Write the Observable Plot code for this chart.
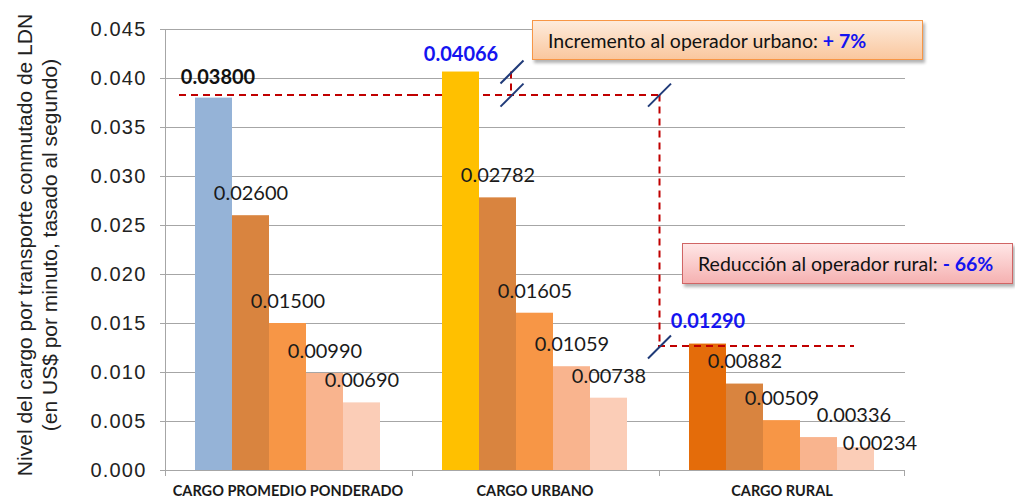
<!DOCTYPE html>
<html>
<head>
<meta charset="utf-8">
<script src="https://cdn.jsdelivr.net/npm/d3@7"></script>
<script src="https://cdn.jsdelivr.net/npm/@observablehq/plot@0.6"></script>
<style>
  html, body { margin: 0; padding: 0; background: #fff; }
  #wrap { position: relative; width: 1015px; height: 499px; overflow: hidden; }
  #wrap svg { position: absolute; left: 0; top: 0; }
  g[aria-label="y-axis tick label"] text { letter-spacing: 1.2px; }
  g[aria-label="value label"] text { letter-spacing: 1px; }
  .note { position: absolute; box-sizing: border-box; display: flex; align-items: center;
          font-family: Lato, "Open Sans", sans-serif; font-size: 19.5px; color: #111;
          white-space: nowrap; padding-left: 15px; }
  .note b { color: #1414F0; font-weight: bold; margin-left: 5px; }
  .note.urb { left: 532px; top: 20px; width: 391px; height: 40px;
              background: linear-gradient(#FDEBDC, #FAC79E); border: 1.5px solid #F79646;
              box-shadow: 2px 3px 3px rgba(0,0,0,0.3); }
  .note.rur { left: 682px; top: 243px; width: 331px; height: 41px;
              background: linear-gradient(#FFE6E6, #F5B1B1); border: 1.5px solid #D06464;
              box-shadow: 2px 3px 3px rgba(0,0,0,0.3); }
</style>
</head>
<body>
<div id="wrap"></div>
<script>
// ---- data ----
const groups = ["CARGO PROMEDIO PONDERADO", "CARGO URBANO", "CARGO RURAL"];
const series = ["s1", "s2", "s3", "s4", "s5"];
const cargoPromedio = [0.03800, 0.02600, 0.01500, 0.00990, 0.00690];
const cargoUrbano   = [0.04066, 0.02782, 0.01605, 0.01059, 0.00738];
const cargoRural    = [0.01290, 0.00882, 0.00509, 0.00336, 0.00234];
const yTicks = [0, 0.005, 0.010, 0.015, 0.020, 0.025, 0.030, 0.035, 0.040, 0.045];
const yTitle = ["Nivel del cargo por transporte conmutado de LDN", "(en US$ por minuto, tasado al segundo)"];
const noteUrbano = ["Incremento al operador urbano:", "+ 7%"];
const noteRural  = ["Reducción al operador rural:", "- 66%"];

// ---- styles ----
const leadColors = ["#95B3D7", "#FFC000", "#E46C0A"];
const tailColors = ["#D9843F", "#F79646", "#F9B48E", "#FBCDB7"];
const leadLabelColors = ["#111111", "#1414F0", "#1414F0"];
const red = "#C00000", navy = "#1F3A78", gridGray = "#A6A6A6";
const dash = {stroke: red, strokeWidth: 2, strokeDasharray: "7,5"};
const EDGE = 48.5; // offset from first band centre to facet edge
const slash = {draw(ctx, size) { const r = Math.sqrt(size / Math.PI); ctx.moveTo(-r, r); ctx.lineTo(r, -r); }};
const fmt = d3.format(".5f");

const allValues = [cargoPromedio, cargoUrbano, cargoRural];
const rows = groups.flatMap((g, gi) => allValues[gi].map((v, si) => ({group: g, gi, series: series[si], si, value: v})));
const baseline = cargoPromedio[0];

const labelOpts = {fx: "group", x: "series", y: "value", text: d => fmt(d.value),
  fontFamily: "Lato, 'Open Sans', sans-serif", fontSize: 20, ariaLabel: "value label"};

const plot = Plot.plot({
  width: 1015, height: 499,
  marginLeft: 163, marginRight: 109, marginTop: 29, marginBottom: 29,
  style: {fontFamily: "'Liberation Sans', Arial, sans-serif", fontSize: "20px", color: "#222", background: "transparent"},
  fx: {domain: groups, padding: 0, label: null},
  x: {domain: series, paddingInner: 0, paddingOuter: 0.79, axis: null},
  y: {domain: [0, 0.045], label: null},
  marks: [
    Plot.gridY(yTicks, {stroke: gridGray, strokeOpacity: 1}),
    Plot.axisY(yTicks, {tickFormat: d3.format(".3f"), tickSize: 4, tickPadding: 14, stroke: gridGray, fill: "#222", fontSize: 20, label: null}),
    Plot.axisFx({anchor: "bottom", tickSize: 0, tickPadding: 15, fontSize: 14.5, fontWeight: "bold",
      fontFamily: "Lato, 'Open Sans', sans-serif", fill: "#1a1a1a", label: null}),
    Plot.text([yTitle.join("\n")], {fx: () => groups[0], frameAnchor: "left", textAnchor: "middle", lineAnchor: "middle",
      rotate: -90, dx: -128, dy: -5, fontSize: 21, lineHeight: 1.19, text: d => d, fill: "#222"}),
    // reference dashed lines (behind bars)
    Plot.ruleY([groups[0]], {fx: d => d, y: () => baseline, insetLeft: 15, dy: -3, ...dash}),
    Plot.ruleY([groups[1]], {fx: d => d, y: () => baseline, dy: -3, ...dash}),
    Plot.ruleX([groups[2]], {fx: d => d, x: () => series[0], dx: -EDGE, y1: () => baseline, y2: () => cargoRural[0], insetTop: -3, insetBottom: -2, ...dash}),
    Plot.ruleX([groups[1]], {fx: d => d, x: () => series[1], dx: 13, y1: () => cargoUrbano[0], y2: () => baseline, insetBottom: 3, ...dash}),
    // bars
    Plot.barY(rows, {fx: "group", x: "series", y: "value", fill: d => d.si === 0 ? leadColors[d.gi] : tailColors[d.si - 1]}),
    Plot.ruleY([groups[2]], {fx: d => d, y: () => cargoRural[0], dy: 2, insetRight: 51, ...dash}),
    // axis lines
    Plot.ruleY([0], {stroke: gridGray}),
    Plot.ruleX([groups[0]], {fx: d => d, x: () => series[0], dx: -EDGE, stroke: gridGray}),
    Plot.ruleX(groups, {fx: d => d, x: () => series[0], dx: -EDGE, y1: () => 0, y2: () => 0, insetBottom: -6, stroke: gridGray}),
    Plot.ruleX([groups[2]], {fx: d => d, x: () => series[4], dx: EDGE, y1: () => 0, y2: () => 0, insetBottom: -6, stroke: gridGray}),
    // value labels
    Plot.text(rows, {...labelOpts, filter: d => d.si > 0 && !(d.gi === 2 && d.si >= 3), dy: -22, fill: "#1a1a1a"}),
    Plot.text(rows, {...labelOpts, filter: d => d.gi === 2 && d.si === 3, dx: 35, dy: -22, fill: "#1a1a1a"}),
    Plot.text(rows, {...labelOpts, filter: d => d.gi === 2 && d.si === 4, dx: 24, dy: -4, fill: "#1a1a1a"}),
    Plot.text(rows, {...labelOpts, filter: d => d.si === 0 && d.gi === 0, dx: 4, dy: -21, fontWeight: "bold", fill: d => leadLabelColors[d.gi]}),
    Plot.text(rows, {...labelOpts, filter: d => d.si === 0 && d.gi === 1, dy: -17, fontWeight: "bold", fill: d => leadLabelColors[d.gi]}),
    Plot.text(rows, {...labelOpts, filter: d => d.si === 0 && d.gi === 2, dy: -22, fontWeight: "bold", fill: d => leadLabelColors[d.gi]}),
    // break marks
    Plot.dot([groups[1]], {fx: d => d, x: () => series[1], y: () => cargoUrbano[0], dx: 14, symbol: slash, r: 11.5, stroke: navy, strokeWidth: 2, fill: "none"}),
    Plot.dot([groups[1]], {fx: d => d, x: () => series[1], y: () => baseline, dx: 14, dy: -3, symbol: slash, r: 11.5, stroke: navy, strokeWidth: 2, fill: "none"}),
    Plot.dot([groups[2]], {fx: d => d, x: () => series[0], y: () => baseline, dx: -EDGE, dy: -3, symbol: slash, r: 11.5, stroke: navy, strokeWidth: 2, fill: "none"}),
    Plot.dot([groups[2]], {fx: d => d, x: () => series[0], y: () => cargoRural[0], dx: -EDGE, dy: 3, symbol: slash, r: 11.5, stroke: navy, strokeWidth: 2, fill: "none"})
  ]
});

const wrap = document.getElementById("wrap");
wrap.appendChild(plot);

function addNote(cls, parts) {
  const div = document.createElement("div");
  div.className = "note " + cls;
  const span = document.createElement("span");
  span.textContent = parts[0];
  const b = document.createElement("b");
  b.textContent = parts[1];
  div.appendChild(span);
  div.appendChild(b);
  wrap.appendChild(div);
}
addNote("urb", noteUrbano);
addNote("rur", noteRural);
</script>
</body>
</html>
